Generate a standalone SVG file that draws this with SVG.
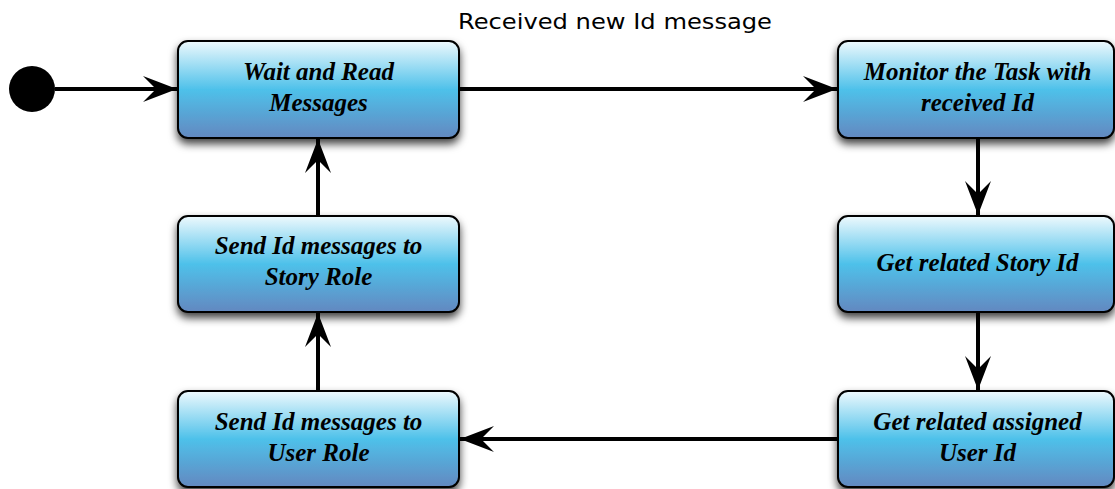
<svg xmlns="http://www.w3.org/2000/svg" width="1115" height="489" viewBox="0 0 1115 489">
<defs>
<linearGradient id="g" x1="0" y1="0" x2="0" y2="1">
<stop offset="0" stop-color="#eef9fd"/>
<stop offset="0.5" stop-color="#4ec1ea"/>
<stop offset="1" stop-color="#6388c0"/>
</linearGradient>
<filter id="sh" x="-10%" y="-20%" width="120%" height="150%">
<feDropShadow dx="0" dy="5" stdDeviation="4" flood-color="#000" flood-opacity="0.75"/>
</filter>
<marker id="ah" markerUnits="userSpaceOnUse" viewBox="-34 -14 36 28" refX="0" refY="0" markerWidth="36" markerHeight="28" orient="auto">
<path d="M0,0 L-34,-13 L-21,0 L-34,13 Z" fill="#000"/>
</marker>
</defs>
<style>
.box{fill:url(#g);stroke:#000;stroke-width:2;filter:url(#sh)}
.lbl{font-family:"Liberation Serif","Times New Roman",serif;font-weight:bold;font-style:italic;font-size:25px;fill:#000;text-anchor:middle}
.conn{stroke:#000;stroke-width:4;fill:none;marker-end:url(#ah)}
.ttl{font-family:"DejaVu Sans","Lucida Grande",sans-serif;font-size:21px;fill:#000}
</style>
<rect width="1115" height="489" fill="#fff"/>
<text class="ttl" x="458" y="29" textLength="314" lengthAdjust="spacingAndGlyphs">Received new Id message</text>
<g id="start"><circle cx="32" cy="89" r="23" fill="#000"/></g>
<g id="n1"><rect class="box" x="178" y="41" width="281" height="97" rx="10"/><text class="lbl" x="318.5" y="80">Wait and Read</text><text class="lbl" x="318.5" y="111">Messages</text></g>
<g id="n2"><rect class="box" x="838" y="41" width="276" height="97" rx="10"/><text class="lbl" x="977.5" y="80">Monitor the Task with</text><text class="lbl" x="977.5" y="111">received Id</text></g>
<g id="n3"><rect class="box" x="838" y="216" width="276" height="96" rx="10"/><text class="lbl" x="977.5" y="271">Get related Story Id</text></g>
<g id="n4"><rect class="box" x="838" y="391" width="276" height="96" rx="10"/><text class="lbl" x="977.5" y="430">Get related assigned</text><text class="lbl" x="977.5" y="461">User Id</text></g>
<g id="n5"><rect class="box" x="178" y="391" width="281" height="96" rx="10"/><text class="lbl" x="318.5" y="430">Send Id messages to</text><text class="lbl" x="318.5" y="461">User Role</text></g>
<g id="n6"><rect class="box" x="178" y="216" width="281" height="96" rx="10"/><text class="lbl" x="318.5" y="254">Send Id messages to</text><text class="lbl" x="318.5" y="285">Story Role</text></g>
<g id="connectors">
<line class="conn" x1="55" y1="89" x2="177" y2="89"/>
<line class="conn" x1="459" y1="89" x2="837" y2="89"/>
<line class="conn" x1="978" y1="138" x2="978" y2="215"/>
<line class="conn" x1="978" y1="312" x2="978" y2="390"/>
<line class="conn" x1="838" y1="439" x2="460" y2="439"/>
<line class="conn" x1="318" y1="391" x2="318" y2="313"/>
<line class="conn" x1="318" y1="216" x2="318" y2="139"/>
</g>
</svg>
